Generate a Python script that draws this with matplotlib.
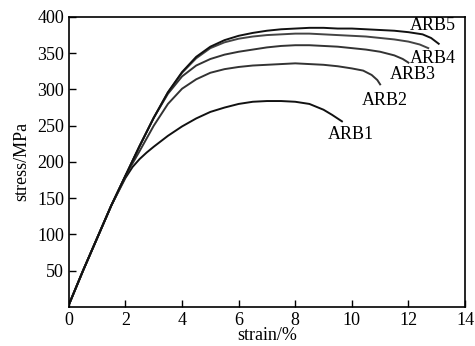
import matplotlib
matplotlib.use('Agg')
import matplotlib.pyplot as plt

plt.rcParams['font.family'] = ['Liberation Serif', 'DejaVu Serif']

# stress-strain data (strain in %, stress in MPa)
x_arb1 = [0, 0.5, 1, 1.5, 2, 2.25, 2.5, 2.75, 3, 3.5, 4, 4.5, 5, 5.5, 6, 6.5, 7, 7.5, 8, 8.5, 9, 9.3, 9.65]
y_arb1 = [3, 50, 95, 140, 178, 193, 204, 213, 221, 236, 249, 260, 269, 275, 280, 283, 284, 284, 283, 280, 272, 265, 256]

x_arb2 = [0, 0.5, 1, 1.5, 2, 2.5, 3, 3.5, 4, 4.5, 5, 5.5, 6, 6.5, 7, 7.5, 8, 8.5, 9, 9.5, 10, 10.4, 10.7, 10.9, 11.0]
y_arb2 = [3, 50, 95, 140, 181, 215, 250, 280, 301, 314, 323, 328, 331, 333, 334, 335, 336, 335, 334, 332, 329, 326, 320, 313, 307]

x_arb3 = [0, 0.5, 1, 1.5, 2, 2.5, 3, 3.5, 4, 4.5, 5, 5.5, 6, 6.5, 7, 7.5, 8, 8.5, 9, 9.5, 10, 10.5, 11, 11.5, 11.8, 12.0]
y_arb3 = [3, 50, 95, 140, 181, 222, 261, 294, 318, 333, 342, 348, 352, 355, 358, 360, 361, 361, 360, 359, 357, 355, 352, 347, 342, 337]

x_arb4 = [0, 0.5, 1, 1.5, 2, 2.5, 3, 3.5, 4, 4.5, 5, 5.5, 6, 6.5, 7, 7.5, 8, 8.5, 9, 9.5, 10, 10.5, 11, 11.5, 12, 12.4, 12.7]
y_arb4 = [3, 50, 95, 140, 181, 222, 261, 296, 323, 343, 357, 365, 370, 373, 375, 376, 377, 377, 376, 375, 374, 373, 371, 369, 366, 362, 357]

x_arb5 = [0, 0.5, 1, 1.5, 2, 2.5, 3, 3.5, 4, 4.5, 5, 5.5, 6, 6.5, 7, 7.5, 8, 8.5, 9, 9.5, 10, 10.5, 11, 11.5, 12, 12.5, 12.8, 13.07]
y_arb5 = [3, 50, 95, 140, 181, 222, 261, 296, 324, 345, 359, 368, 374, 378, 381, 383, 384, 385, 385, 384, 384, 383, 382, 381, 379, 376, 371, 363]

labels = ['ARB1', 'ARB2', 'ARB3', 'ARB4', 'ARB5']
label_x = [9.15, 10.35, 11.35, 12.05, 12.05]
label_y = [238, 285, 320, 343, 388]

fig = plt.figure(figsize=(4.75, 3.46), dpi=100)
ax = fig.add_axes([0.145, 0.113, 0.834, 0.838])

curves = [(x_arb1, y_arb1), (x_arb2, y_arb2), (x_arb3, y_arb3), (x_arb4, y_arb4), (x_arb5, y_arb5)]
colors = ['#111111', '#333333', '#333333', '#444444', '#111111']
for (xs, ys), c in zip(curves, colors):
    ax.plot(xs, ys, color=c, lw=1.4)

for name, lx, ly in zip(labels, label_x, label_y):
    ax.text(lx, ly, name, fontsize=13, va='center', ha='left')

ax.set_xlim(0, 14)
ax.set_ylim(0, 400)
ax.set_xticks(range(0, 15, 2))
ax.set_yticks(range(50, 401, 50))
ax.tick_params(direction='in', length=5, width=1, labelsize=13, top=False, right=False)
for s in ax.spines.values():
    s.set_linewidth(1.2)

ax.set_xlabel('strain/%', fontsize=13, labelpad=-1)
ax.set_ylabel('stress/MPa', fontsize=13, labelpad=5)

fig.savefig('out.png', dpi=100)
